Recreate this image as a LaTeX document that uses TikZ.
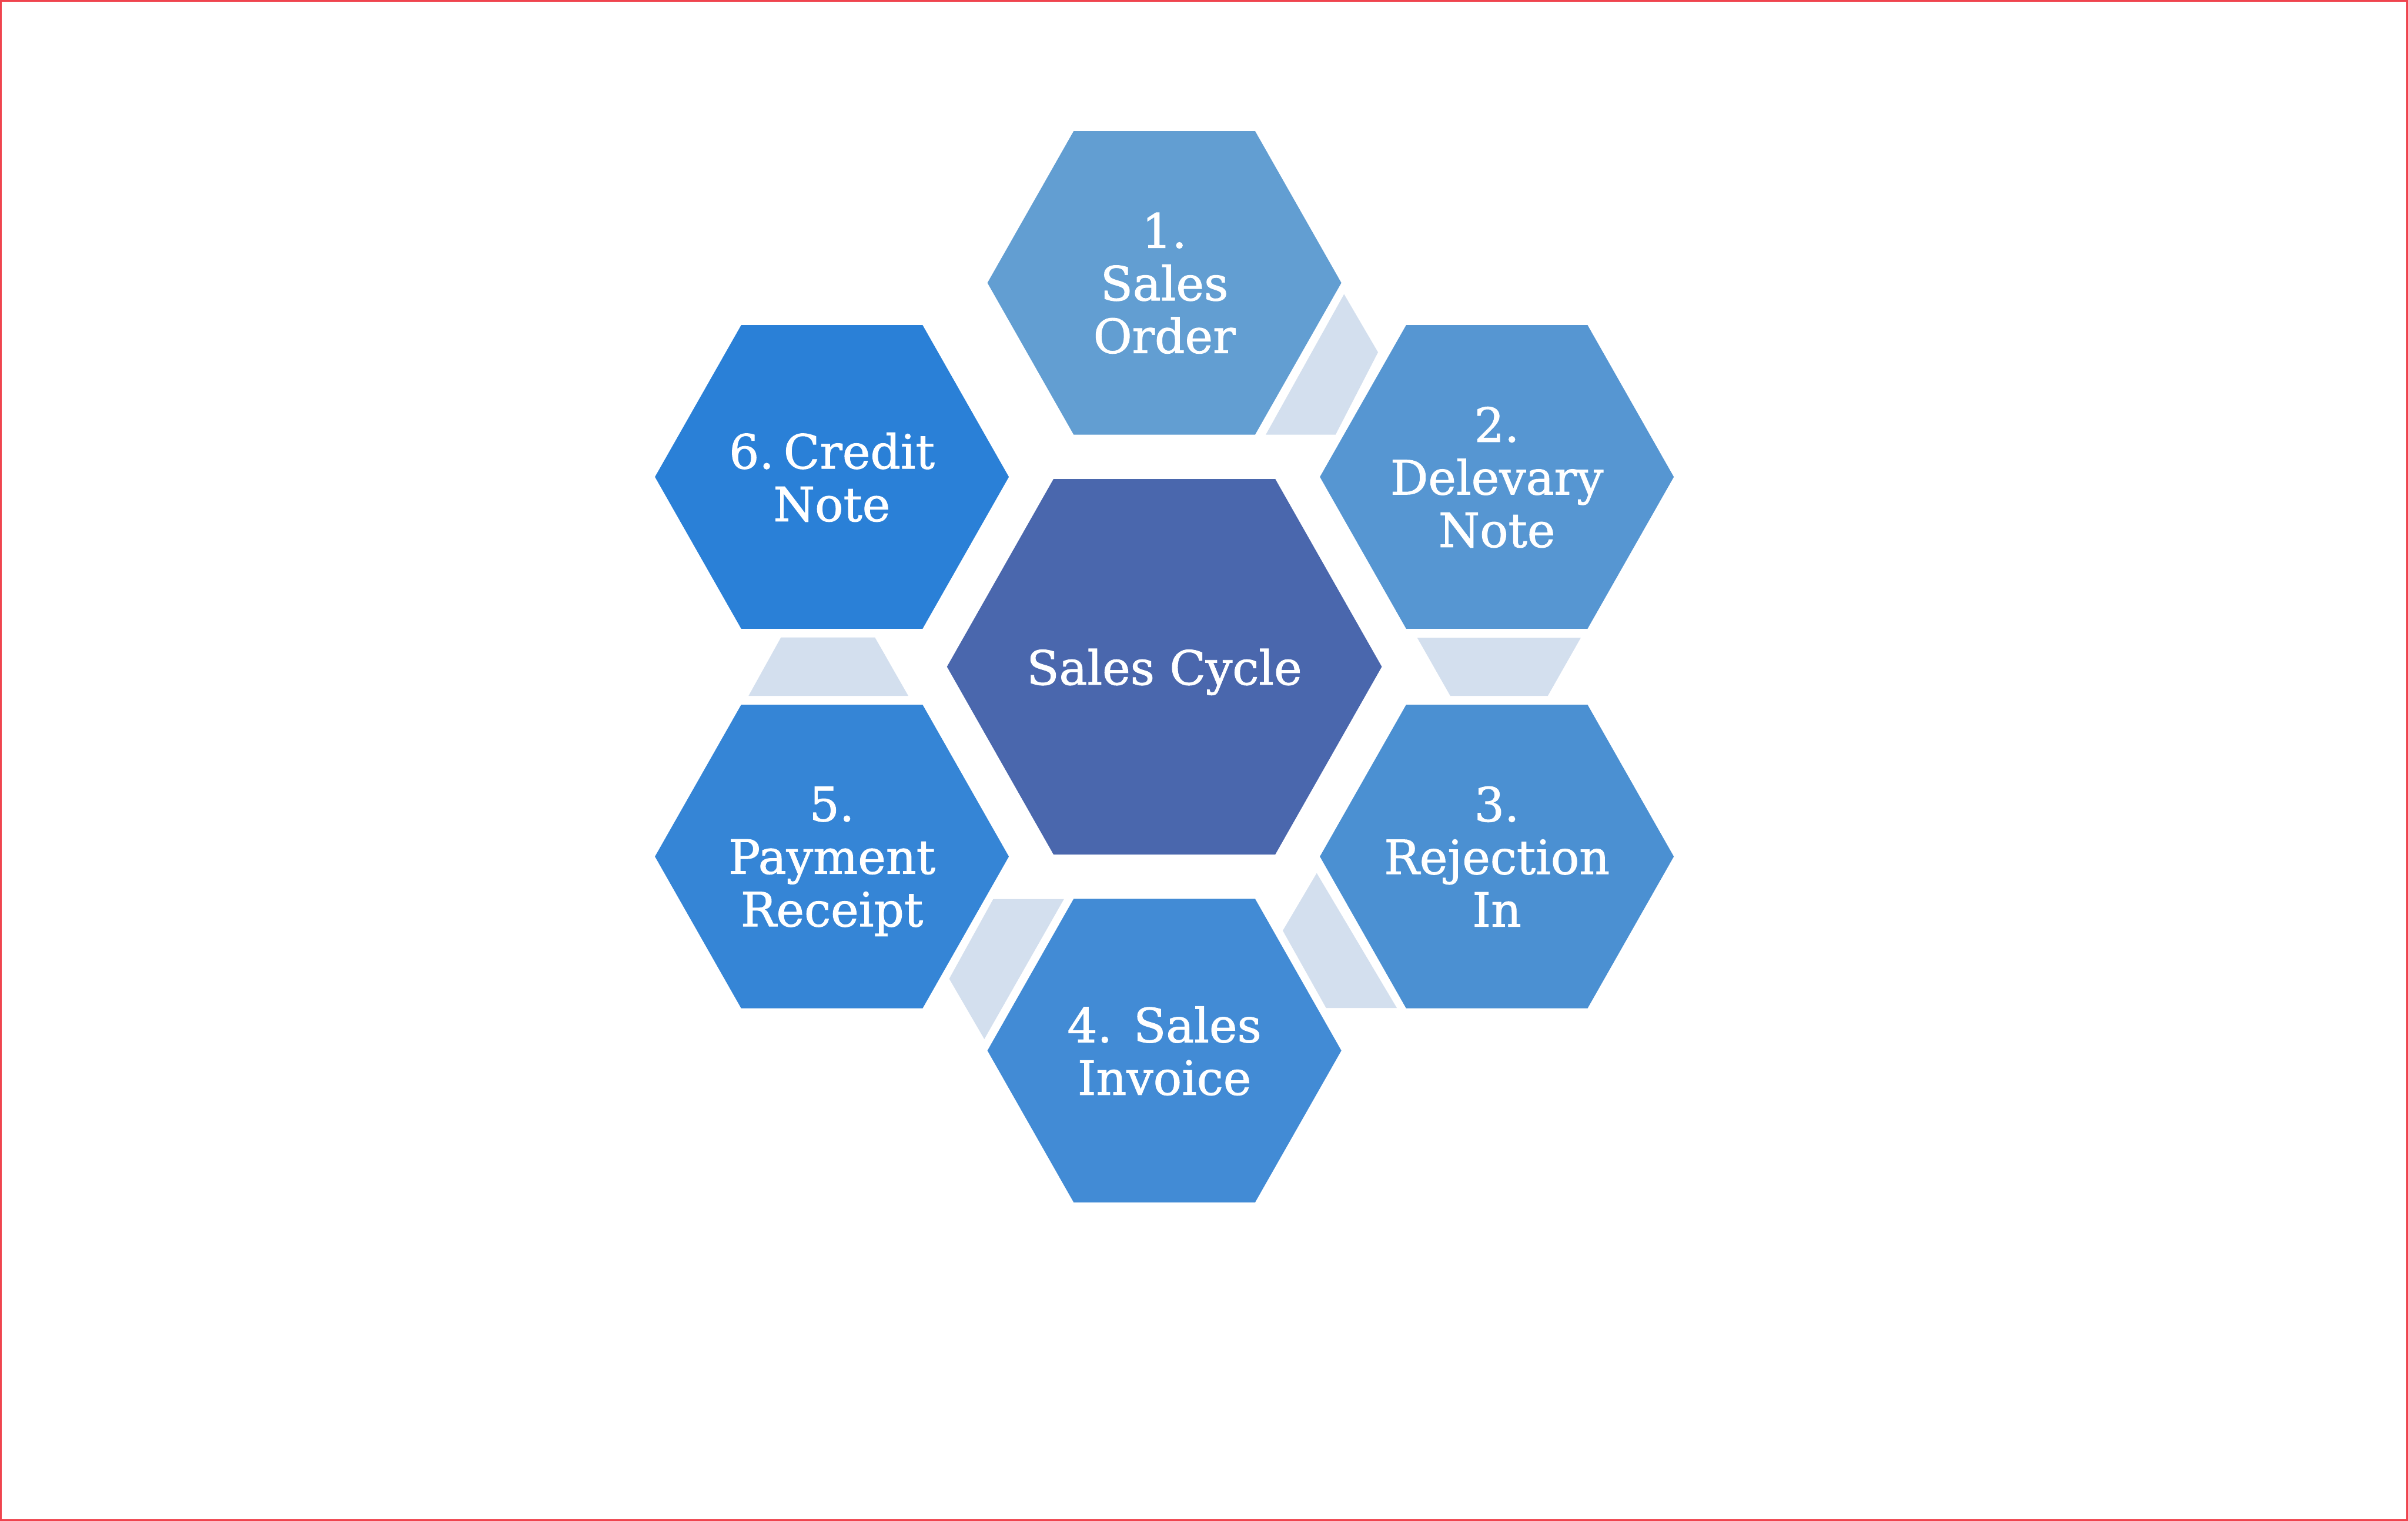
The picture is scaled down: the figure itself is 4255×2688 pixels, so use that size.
\documentclass[tikz,border=0pt]{standalone}
\usepackage{fontspec}
\setmainfont{DejaVu Serif}
\newfontfamily\lblfont{DejaVu Serif}[FakeBold=1.2]
\definecolor{hexA}{RGB}{98,158,210}
\definecolor{hexB}{RGB}{86,150,210}
\definecolor{hexC}{RGB}{75,144,210}
\definecolor{hexD}{RGB}{66,139,213}
\definecolor{hexE}{RGB}{53,133,214}
\definecolor{hexF}{RGB}{42,128,215}
\definecolor{hexM}{RGB}{74,103,173}
\definecolor{linkc}{RGB}{211,223,238}
\definecolor{framec}{RGB}{239,68,78}
\begin{document}
\begin{tikzpicture}[x=0.1pt,y=-0.1pt,
  lbl/.style={text=white,font=\lblfont\fontsize{8.35}{9.3}\selectfont,align=center,inner sep=0pt,text depth=0pt},
  linkshape/.style={fill=linkc},
  pics/outerhex/.style={code={\fill[pic actions] (-312.7,0) -- (-160.3,-268.3) -- (160.3,-268.3) -- (312.7,0) -- (160.3,268.3) -- (-160.3,268.3) -- cycle;}},
  pics/centerhex/.style={code={\fill[pic actions] (-384.2,0) -- (-196,-331.7) -- (196,-331.7) -- (384.2,0) -- (196,331.7) -- (-196,331.7) -- cycle;}}]
\useasboundingbox (0,0) rectangle (4255,2688);
\fill[white] (0,0) rectangle (4255,2688);
\draw[framec,line width=0.28pt] (1.4,1.4) rectangle (4253.6,2686.6);

% centres
\coordinate (h0) at (2057.5,1178.5);
\coordinate (h1) at (2057.5,500);
\coordinate (h2) at (2645,843);
\coordinate (h3) at (2645,1514);
\coordinate (h4) at (2057.5,1857);
\coordinate (h5) at (1470,1514);
\coordinate (h6) at (1470,843);

% link shapes
\fill[linkshape] (2375,520) -- (2435,622.7) -- (2360,768.3) -- (2236.7,768.3) -- cycle;
\fill[linkshape] (2504.3,1127.3) -- (2793.3,1127.3) -- (2735,1230) -- (2562.7,1230) -- cycle;
\fill[linkshape] (2326.7,1543.3) -- (2266.7,1645) -- (2343.3,1781.7) -- (2468.3,1781.7) -- cycle;
\fill[linkshape] (1755,1589.3) -- (1880,1589.3) -- (1739.3,1836.7) -- (1677.3,1730) -- cycle;
\fill[linkshape] (1380,1126.7) -- (1546,1126.7) -- (1605,1230) -- (1322.7,1230) -- cycle;

% hexagons
\pic[fill=hexM] at (h0) {centerhex};
\pic[fill=hexA] at (h1) {outerhex};
\pic[fill=hexB] at (h2) {outerhex};
\pic[fill=hexC] at (h3) {outerhex};
\pic[fill=hexD] at (h4) {outerhex};
\pic[fill=hexE] at (h5) {outerhex};
\pic[fill=hexF] at (h6) {outerhex};

% labels
\node[lbl] (n0) at (h0) {Sales Cycle};
\node[lbl] (n1) at (h1) {1.\\Sales\\Order};
\node[lbl] (n2) at (h2) {2.\\Delevary\\Note};
\node[lbl] (n3) at (h3) {3.\\Rejection\\In};
\node[lbl] (n4) at (h4) {4.\hspace{0.45em}Sales\\Invoice};
\node[lbl] (n5) at (h5) {5.\\Payment\\Receipt};
\node[lbl] (n6) at (h6) {6.\hspace{0.2em}Credit\\Note};
\end{tikzpicture}
\end{document}
